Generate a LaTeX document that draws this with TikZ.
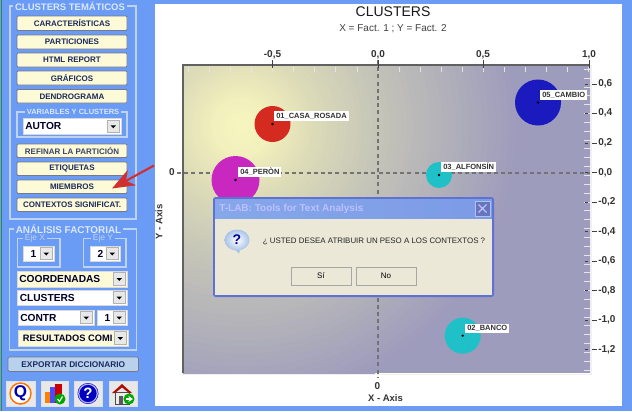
\documentclass[tikz,border=0pt]{standalone}
\usepackage{fontspec}
\setmainfont{Liberation Sans}
\usetikzlibrary{arrows.meta}
\definecolor{bgblue}{HTML}{6A9BF5}
\definecolor{frameblue}{HTML}{BFD2F2}
\definecolor{labelblue}{HTML}{DCE8FB}
\definecolor{cream}{HTML}{FDFAD8}
\definecolor{btnedge}{HTML}{77798A}
\definecolor{btntext}{HTML}{1C2A5C}
\definecolor{dlgface}{HTML}{EBE8D8}
\definecolor{dlgedge}{HTML}{5F72D2}
\definecolor{dlgbar}{HTML}{7C9AE6}
\definecolor{dlgbarb}{HTML}{86A8EA}
\definecolor{glowd}{HTML}{9E9CBC}
\definecolor{cred}{HTML}{D42A20}
\definecolor{cmag}{HTML}{C828C0}
\definecolor{cblue}{HTML}{1A1ABE}
\definecolor{cteal}{HTML}{20C0C8}
\definecolor{arrowred}{HTML}{D03030}
\definecolor{exportblue}{HTML}{B8D2EE}
\definecolor{icona}{HTML}{A8C4E8}
\newcommand\pxfont[1]{\fontsize{\dimexpr#1pt*3/4\relax}{\dimexpr#1pt\relax}\selectfont}
\tikzset{
 x=0.75pt,y=-0.75pt,
 btnface/.style={fill=cream,draw=btnedge,line width=0.7pt,rounded corners=0.8pt},
 btntxt/.style={font=\pxfont{8}\bfseries,text=btntext,inner sep=0pt},
 groupframe/.style={draw=frameblue,line width=0.9pt},
 grouplabel/.style={fill=bgblue,text=labelblue,font=\pxfont{9.5}\bfseries,inner xsep=1.5pt,inner ysep=0pt},
 combotxt/.style={font=\pxfont{10.2}\bfseries,text=black!85!blue,inner sep=0pt,anchor=west},
 major/.style={draw=black!75,line width=0.6pt},
 minor/.style={draw=white!80!gray,line width=0.6pt},
 ticklabel/.style={font=\pxfont{10}\bfseries,text=black!80,inner sep=0pt},
 ptlabel/.style={fill=white,font=\pxfont{7.5}\bfseries,text=black!80,inner xsep=1.5pt,inner ysep=1.2pt,anchor=west},
 axisline/.style={draw=black!55,line width=0.9pt,dash pattern=on 3pt off 2.4pt},
 dot/.style={circle,fill=black,inner sep=0pt,minimum size=2pt},
 dlgbtn/.style={fill=dlgface,draw=gray!70,line width=0.6pt,font=\pxfont{8},inner sep=0pt,minimum height=13.5pt,minimum width=45pt},
 iconbox/.style={fill=gray!18,draw=white!75!gray,line width=0.5pt},
}
% name x1 y1 x2 y2 text
\newcommand\btn[6]{\path[btnface] (#2,#3) rectangle (#4,#5) node[pos=.5,btntxt] (#1) {#6};}
% name x1 y1 x2 y2 fill text
\newcommand\combo[7]{%
 \path[fill=#6,draw=white!70!gray,line width=0.7pt] (#2,#3) rectangle (#4,#5);
 \path[fill=gray!18,draw=gray!60,line width=0.4pt] (#4-14,#3+1.5) rectangle (#4-1.5,#5-1.5);
 \fill[black] (#4-10.5,{(#3+#5)/2-1}) -- (#4-5,{(#3+#5)/2-1}) -- (#4-7.75,{(#3+#5)/2+2}) -- cycle;
 \node[combotxt] (#1) at (#2+2,{(#3+#5)/2}) {#7};}
\begin{document}
\begin{tikzpicture}
\useasboundingbox (0,0) rectangle (632,411);
\fill[bgblue] (0,0) rectangle (632,411);
\fill[green!45!black!80] (0.8,0) rectangle (2,411);
\fill[white] (155,3.5) rectangle (622,406);
% plot area
\begin{scope}
 \clip (183,65) rectangle (590,373);
 \fill[glowd] (183,65) rectangle (590,373);
 \foreach \ro/\Ro/\Go/\Bo/\ri/\Ri/\Gi/\Bi in {
   280/158/156/188/200/180/179/186,
   200/180/179/186/130/200/200/184,
   130/200/200/184/70/222/221/184,
   70/222/221/184/30/242/240/188,
   30/242/240/188/0/248/246/192} {
  \foreach \k in {0,...,11} {
   \pgfmathsetmacro\tt{\k/12}
   \pgfmathsetmacro\rr{\ro+(\ri-\ro)*\tt}
   \pgfmathtruncatemacro\cR{\Ro+(\Ri-\Ro)*\tt}
   \pgfmathtruncatemacro\cG{\Go+(\Gi-\Go)*\tt}
   \pgfmathtruncatemacro\cB{\Bo+(\Bi-\Bo)*\tt}
   \definecolor{ringcol}{RGB}{\cR,\cG,\cB}
   \fill[ringcol] (242,127) circle (\rr);
  }
 }
\end{scope}
\draw[white!88!gray,line width=1.4pt] (591,65) -- (591,374.5) -- (183,374.5);
\draw[black!62,line width=1.6pt] (183,373) -- (183,65) -- (590,65);
% minor ticks
\foreach \i in {0,...,19} {\draw[minor] ({188.5+21.05*\i},67) -- ({188.5+21.05*\i},72);}
\foreach \i in {0,...,34} {\draw[minor] (584,{69.2+\i*8.85}) -- (590,{69.2+\i*8.85});}
% axes
\coordinate (vtop) at (378,60);
\coordinate (vbot) at (378,378);
\coordinate (hleft) at (177,173);
\coordinate (hright) at (590,173);
\draw[axisline] (vtop) -- (vbot);
\draw[axisline] (hleft) -- (hright);
% top ticks
\foreach \x/\t in {272.5/-0{,}5,378/0{,}0,483/0{,}5,589/1{,}0} {
 \draw[major] (\x,60) -- (\x,68);
 \node[ticklabel] at (\x,55) {\t};}
% right ticks
\foreach \y/\t in {84/0{,}6,113/0{,}4,143/0{,}2,172.5/0{,}0,202/-0{,}2,231.5/-0{,}4,261/-0{,}6,290.5/-0{,}8,320/-1{,}0,349.5/-1{,}2} {
 \draw[major] (585,\y) -- (588,\y) (592,\y) -- (597,\y);
 \node[ticklabel,anchor=west] at (598,\y) {\t};}
% circles
\fill[cred] (272.5,124) circle (18);
\fill[cmag] (235.5,180) circle (24);
\fill[cblue] (538,102.5) circle (23);
\fill[cteal] (439,175) circle (13);
\fill[cteal] (462.7,335.7) circle (18);
\node[dot] (p1) at (272.5,124) {};
\node[dot] (p4) at (235.5,180) {};
\node[dot] (p5) at (538,102.5) {};
\node[dot] (p3) at (439,175) {};
\node[dot] (p2) at (462.7,335.7) {};
\node[ptlabel] (l1) at (274,116) {01\_CASA\_ROSADA};
\node[ptlabel] (l4) at (238,172) {04\_PERÒN};
\node[ptlabel] (l5) at (540,95) {05\_CAMBIO};
\node[ptlabel] (l3) at (441,167) {03\_ALFONSÍN};
\node[ptlabel] (l2) at (465,328.5) {02\_BANCO};
% titles
\node[font=\pxfont{14},text=black!90,inner sep=0pt] (title) at (393,12) {CLUSTERS};
\node[font=\pxfont{10},text=black!75,inner sep=0pt] (subtitle) at (393,28.5) {X = Fact. 1 ; Y = Fact. 2};
\node[ticklabel] (zl) at (172,172.5) {0};
\node[ticklabel] (zb) at (377.5,386) {0};
\node[ticklabel,font=\pxfont{9.5}\bfseries] (xaxis) at (385.5,398.5) {X - Axis};
\node[ticklabel,font=\pxfont{9.5}\bfseries,rotate=90] (yaxis) at (159,222) {Y - Axis};
% dialog
\fill[dlgedge,rounded corners=2pt] (213,197) rectangle (494,297);
\path[left color=dlgbarb,right color=dlgbar] (215,199) rectangle (492,219);
\fill[dlgface] (215,219) rectangle (492,295);
\node[anchor=west,font=\pxfont{10}\bfseries,text=white!75!blue,inner sep=0pt] (dlgtitle) at (219,209) {T-LAB: Tools for Text Analysis};
\path[fill=dlgedge!75!gray,draw=dlgbar!60!white,line width=0.4pt] (475,201) rectangle (490,216);
\draw[white!75!blue,line width=0.9pt] (478.5,204.5) -- (486.5,212.5) (486.5,204.5) -- (478.5,212.5);
% question icon
\fill[icona] (241,247) -- (239,253.5) -- (233,248) -- cycle;
\path[inner color=white,outer color=icona] (237,240) ellipse (12.5 and 10.5);
\node[font=\pxfont{14}\bfseries,text=blue!60!black,inner sep=0pt] (qicon) at (237,239.5) {?};
\node[font=\pxfont{7.9},text=black!85,inner sep=0pt] (dlgtext) at (374,241) {¿ USTED DESEA ATRIBUIR UN PESO A LOS CONTEXTOS ?};
\node[dlgbtn] (si) at (321,276) {Sí};
\node[dlgbtn] (no) at (386,276) {No};
% left panel frames
\draw[groupframe] (10,6) rectangle (136,219);
\node[grouplabel] (g1) at (70,6.5) {CLUSTERS TEMÁTICOS};
\btn{b1}{17}{16}{127}{30.5}{CARACTERÍSTICAS}
\btn{b2}{17}{35}{127}{49}{PARTICIONES}
\btn{b3}{17}{53}{127}{67}{HTML REPORT}
\btn{b4}{17}{71}{127}{85}{GRÁFICOS}
\btn{b5}{17}{89.5}{127}{103}{DENDROGRAMA}
\draw[groupframe] (17,112) rectangle (127,137);
\node[grouplabel,font=\pxfont{7.5}\bfseries] (g2) at (73,112) {VARIABLES Y CLUSTERS};
\combo{c1}{23}{118.5}{121}{134}{white}{AUTOR}
\btn{b6}{17}{144}{127}{157.5}{\textcolor{btntext!70!gray}{REFINAR LA PARTICIÓN}}
\btn{b7}{17}{162}{127}{175.5}{ETIQUETAS}
\btn{b8}{17}{180}{127}{193.5}{MIEMBROS}
\btn{b9}{17}{198}{127}{211.5}{CONTEXTOS SIGNIFICAT.}
% lower frame
\draw[groupframe] (9.5,229) rectangle (136.5,350);
\node[grouplabel,font=\pxfont{9.9}\bfseries] (g3) at (68.5,229) {ANÁLISIS FACTORIAL};
\draw[groupframe] (17.5,238.5) rectangle (60,267);
\node[grouplabel,font=\pxfont{8.5},text=frameblue] (gx) at (35,238.5) {Eje X};
\draw[groupframe] (83.5,238.5) rectangle (126,267);
\node[grouplabel,font=\pxfont{8.5},text=frameblue] (gy) at (103,238.5) {Eje Y};
\combo{c2}{23}{246}{54}{261}{white}{\hspace{4pt}1}
\combo{c3}{90}{246}{120}{261}{white}{\hspace{4pt}2}
\combo{c4}{17}{271}{127}{287}{cream}{COORDENADAS}
\combo{c5}{17.5}{290}{127}{305}{white}{CLUSTERS}
\combo{c6}{18}{310}{94}{325}{white}{CONTR}
\combo{c7}{97}{310}{127}{325}{white}{\hspace{4pt}1}
\combo{c8}{18}{330}{128}{346}{cream}{\hspace{2pt}\pxfont{9.3}RESULTADOS COMI}
\path[fill=exportblue,draw=btnedge,line width=0.6pt,rounded corners=1pt] (8,357) rectangle (138.5,371.5) node[pos=.5,btntxt,font=\pxfont{8.3}\bfseries] (export) {EXPORTAR DICCIONARIO};
% icons
\path[iconbox] (6,381) rectangle (35,406);
\path[iconbox] (41,381) rectangle (68,406);
\path[iconbox] (74,381) rectangle (102,406);
\path[iconbox] (109,381) rectangle (137,406);
\draw[orange!90!red,line width=1.1pt,fill=white] (20.5,393.5) circle (10.5);
\node[font=\pxfont{17}\bfseries,text=blue!70!black,inner sep=0pt] (qi) at (20.5,393.5) {Q};
\fill[orange] (45,392) rectangle (50,403);
\fill[blue!70!white] (50,387) rectangle (55,403);
\fill[red!80!black] (55,384) rectangle (62,403);
\fill[green!65!black] (60,399) circle (5.5);
\draw[white,line width=0.8pt] (57.5,399) -- (59.5,401.5) -- (62.5,396.5);
\fill[blue!75!black] (88,393.5) circle (10.5);
\draw[white!70!blue,line width=0.9pt] (88,393.5) circle (9.3);
\node[font=\pxfont{15}\bfseries,text=white,inner sep=0pt] (hi) at (88,393.5) {?};
\fill[white!85!gray,draw=black!70,line width=0.5pt] (115,392) rectangle (129,404);
\fill[red!65!black!90!orange] (112,393) -- (122,384) -- (132,393) -- (129,393) -- (122,387.5) -- (115,393) -- cycle;
\fill[black!65] (119,396) rectangle (123,404);
\fill[green!65!black] (129,399) circle (5.5);
\draw[-{Stealth[length=3.5pt,width=4.5pt]},white,line width=1pt] (125.5,399) -- (133,399);
% red arrow
\coordinate (arrowstart) at (154,165.5);
\coordinate (arrowend) at (112,188.5);
\draw[-{Stealth[length=17pt,width=13pt,inset=5pt]},draw=arrowred,fill=arrowred,line width=1.6pt] (arrowstart) -- (arrowend);
\end{tikzpicture}
\end{document}
